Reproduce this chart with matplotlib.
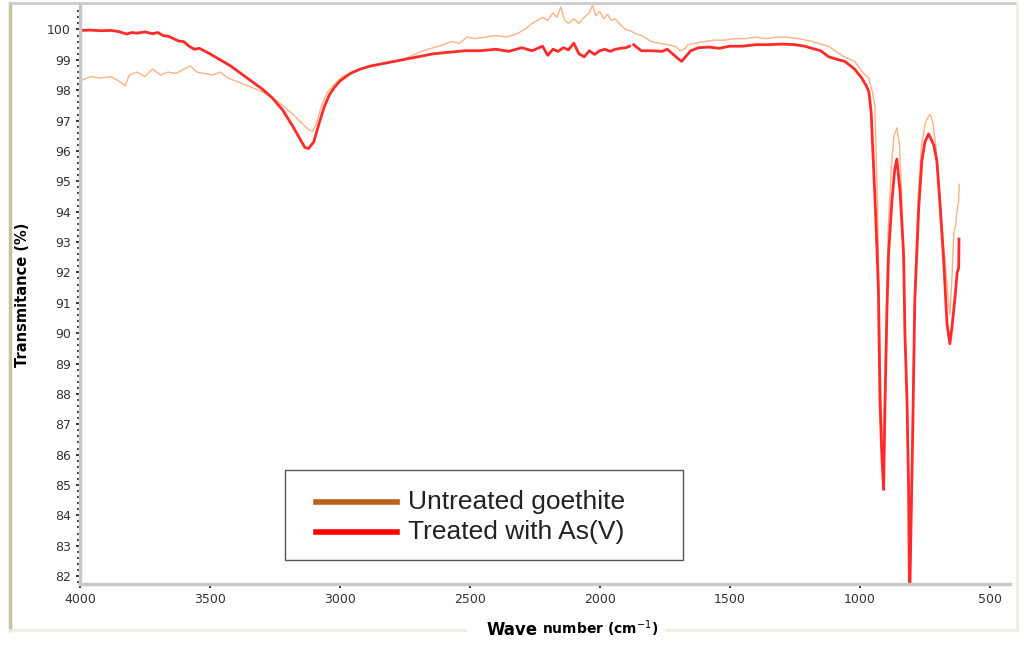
import numpy as np
import matplotlib
matplotlib.use("Agg")
import matplotlib.pyplot as plt
from matplotlib.lines import Line2D
from matplotlib.patches import Rectangle

# treated with As(V)
wn_treated = [4000, 3960, 3920, 3880, 3850, 3820, 3800, 3780, 3750, 3720, 3700, 3680,
              3660, 3640, 3620, 3600, 3580, 3560, 3540, 3500, 3460, 3420, 3380, 3340,
              3300, 3260, 3220, 3180, 3150, 3135, 3120, 3100, 3080, 3060, 3040, 3020,
              3000, 2960, 2920, 2880, 2820, 2760, 2700, 2640, 2580, 2520, 2460, 2400,
              2350, 2300, 2260, 2220, 2200, 2180, 2160, 2140, 2120, 2100, 2080, 2060,
              2040, 2020, 2000, 1980, 1960, 1940, 1920, 1900, 1885, 1880, 1870, 1840,
              1800, 1760, 1740, 1720, 1700, 1685, 1670, 1650, 1620, 1580, 1540, 1500,
              1450, 1400, 1350, 1300, 1250, 1212, 1150, 1119, 1080, 1057, 1020, 992,
              975, 965, 956, 942, 934, 928, 922, 915, 908, 903, 895, 889, 876, 865, 857, 845,
              831, 826, 818, 812, 808, 803, 796, 788, 773, 761, 749, 735, 715, 703,
              691, 677, 664, 653, 645, 633, 625, 619, 618]
treated = [99.97, 99.98, 99.96, 99.97, 99.93, 99.85, 99.9, 99.88, 99.92, 99.86, 99.9, 99.8,
           99.78, 99.7, 99.62, 99.6, 99.45, 99.35, 99.38, 99.2, 99.0, 98.8, 98.55, 98.3,
           98.05, 97.75, 97.35, 96.8, 96.35, 96.12, 96.08, 96.3, 96.9, 97.45, 97.85, 98.1,
           98.3, 98.55, 98.7, 98.8, 98.9, 99.0, 99.1, 99.2, 99.25, 99.3, 99.3, 99.35,
           99.28, 99.4, 99.3, 99.45, 99.15, 99.35, 99.28, 99.4, 99.33, 99.55, 99.2, 99.1,
           99.3, 99.18, 99.3, 99.35, 99.28, 99.35, 99.38, 99.4, 99.45, np.nan, 99.5, 99.3,
           99.3, 99.28, 99.35, 99.2, 99.05, 98.95, 99.1, 99.3, 99.4, 99.42, 99.38, 99.45,
           99.45, 99.5, 99.5, 99.52, 99.5, 99.45, 99.3, 99.1, 99.0, 98.95, 98.7, 98.4,
           98.15, 97.96, 97.3, 94.6, 92.9, 91.4, 87.8, 86.0, 84.85, 87.45, 90.8, 92.6, 94.35, 95.4, 95.73, 94.7,
           92.6, 90.0, 87.8, 85.0, 81.0, 83.4, 86.7, 91.06, 94.1, 95.66, 96.3, 96.56, 96.2, 95.66,
           94.25, 92.4, 90.3, 89.65, 90.2, 91.2, 92.0, 92.15, 93.1]

# untreated goethite
wn_untreated = [4000, 3960, 3920, 3880, 3850, 3826, 3810, 3780, 3750, 3720, 3690, 3660,
                3630, 3600, 3575, 3550, 3520, 3490, 3460, 3430, 3400, 3370, 3340, 3300,
                3260, 3220, 3180, 3150, 3120, 3105, 3090, 3070, 3050, 3020, 2990, 2950,
                2900, 2850, 2800, 2760, 2720, 2680, 2640, 2600, 2570, 2540, 2510, 2480,
                2440, 2400, 2360, 2320, 2300, 2280, 2260, 2240, 2220, 2200, 2180, 2165,
                2150, 2135, 2120, 2100, 2080, 2060, 2040, 2028, 2015, 2000, 1985, 1970,
                1955, 1940, 1920, 1900, 1880, 1860, 1840, 1820, 1800, 1770, 1740, 1710,
                1690, 1675, 1660, 1630, 1600, 1560, 1520, 1480, 1440, 1400, 1360, 1320,
                1280, 1235, 1180, 1119, 1060, 1019, 990, 965, 950, 942, 932, 925,
                918, 912, 905, 898, 890, 878, 868, 857, 847, 838, 830, 822, 815, 808, 801,
                795, 788, 775, 762, 748, 735, 728, 718, 705, 695, 684, 672, 660, 653, 645,
                638, 630, 626, 620, 617]
untreated = [98.3, 98.45, 98.4, 98.45, 98.3, 98.15, 98.5, 98.6, 98.45, 98.7, 98.5, 98.6,
             98.55, 98.7, 98.8, 98.6, 98.55, 98.5, 98.6, 98.4, 98.3, 98.2, 98.1, 97.95,
             97.75, 97.5, 97.2, 96.95, 96.7, 96.65, 96.9, 97.5, 97.9, 98.2, 98.45, 98.6,
             98.75, 98.85, 98.95, 99.0, 99.15, 99.3, 99.4, 99.5, 99.6, 99.55, 99.75, 99.7,
             99.75, 99.8, 99.75, 99.85, 99.95, 100.05, 100.2, 100.3, 100.4, 100.3, 100.55, 100.4,
             100.75, 100.3, 100.2, 100.35, 100.2, 100.4, 100.55, 100.8, 100.45, 100.6, 100.35, 100.5,
             100.3, 100.35, 100.15, 100.0, 99.95, 99.85, 99.8, 99.7, 99.6, 99.55, 99.5, 99.45,
             99.3, 99.35, 99.5, 99.55, 99.6, 99.65, 99.65, 99.7, 99.7, 99.75, 99.7, 99.75,
             99.75, 99.7, 99.6, 99.44, 99.1, 98.95, 98.6, 98.4, 97.9, 97.5, 94.5, 91.0,
             88.0, 86.0, 87.5, 90.5, 93.5, 95.5, 96.5, 96.76, 96.2, 94.5, 92.0, 89.0, 86.0, 83.4, 85.0,
             88.0, 91.5, 94.5, 96.2, 96.9, 97.15, 97.2, 96.9, 96.0, 95.0, 93.6, 92.4, 91.2, 90.6, 91.8,
             93.3, 93.6, 94.0, 94.3, 94.9]

legend_labels = ["Untreated goethite", "Treated with As(V)"]
legend_colors = ["#b8601a", "#ff0000"]

y_ticks = list(range(82, 101))
x_ticks = [4000, 3500, 3000, 2500, 2000, 1500, 1000, 500]

fig = plt.figure(figsize=(10.24, 6.51), dpi=100)
ax = fig.add_axes([0.078, 0.103, 0.908, 0.889])

ax.plot(wn_untreated, untreated, color="#f9b383", lw=1.0)
ax.plot(wn_treated, treated, color="#ff2a2a", lw=2.0)

ax.set_xlim(4000, 423)
ax.set_ylim(81.74, 100.8)
ax.set_xticks(x_ticks)
ax.set_yticks(y_ticks)
ax.set_yticks(np.arange(81.8, 100.8, 0.2), minor=True)
ax.tick_params(axis="both", labelsize=9, colors="#333333", length=3, width=1.5)
ax.tick_params(axis="y", which="minor", length=2, width=1.5, color="#444444")
for s in ["top", "right"]:
    ax.spines[s].set_visible(False)
for s in ["left", "bottom"]:
    ax.spines[s].set_color("#c8c8c8")
    ax.spines[s].set_linewidth(2.5)

ax.set_ylabel("Transmitance (%)", fontsize=10.5, fontweight="bold", labelpad=12)

# legend box drawn by hand (wide padding like the original)
fig.add_artist(Rectangle((0.2783, 0.1398), 0.3887, 0.1382, transform=fig.transFigure,
                         facecolor="white", edgecolor="#555555", lw=1.0))
for i, (lab, col) in enumerate(zip(legend_labels, legend_colors)):
    yy = 0.2289 - i * 0.0461
    fig.add_artist(Line2D([0.3086, 0.3877], [yy, yy], color=col, lw=4))
    fig.text(0.3984, yy, lab, fontsize=19, family="Liberation Sans",
             color="#222222", ha="left", va="center")

# outer frame
fig.add_artist(Line2D([0.010, 0.010], [0.032, 0.995], color="#c9c0a4", lw=2.5))
fig.add_artist(Line2D([0.010, 0.992], [0.995, 0.995], color="#cccccc", lw=2.0))
fig.add_artist(Line2D([0.993, 0.993], [0.032, 0.995], color="#eeeedf", lw=2.0))
fig.add_artist(Line2D([0.010, 0.454], [0.032, 0.032], color="#eeeedf", lw=2.0))
fig.add_artist(Line2D([0.650, 0.993], [0.032, 0.032], color="#eeeedf", lw=2.0))

fig.text(0.475, 0.018, "Wave", fontsize=12, fontweight="bold", ha="left", va="bottom")
fig.text(0.529, 0.018, "number (cm$^{-1}$)", fontsize=10, fontweight="bold", ha="left", va="bottom")

fig.savefig("out.png", dpi=100, facecolor="white")
